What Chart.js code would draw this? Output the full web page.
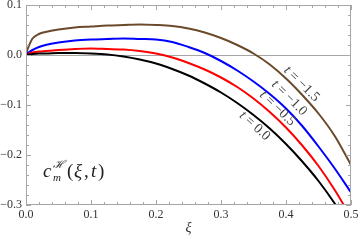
<!DOCTYPE html>
<html>
<head>
<meta charset="utf-8">
<script src="https://cdn.jsdelivr.net/npm/chart.js@4.4.0/dist/chart.umd.min.js"></script>
<style>
  html, body { margin: 0; padding: 0; background: #fff; }
</style>
</head>
<body>
<canvas id="chart" width="359" height="241"></canvas>
<script>
// xi sample points
const xi = [0, 0.002, 0.005, 0.01, 0.02, 0.03, 0.05, 0.075, 0.1, 0.125, 0.15, 0.175, 0.2,
    0.225, 0.25, 0.275, 0.3, 0.325, 0.35, 0.375, 0.4, 0.425, 0.45, 0.475, 0.5];

// c_m^H(xi, t) for each t
const cT15 = [0, 0.010, 0.020, 0.033, 0.042, 0.046, 0.051, 0.055, 0.057, 0.059, 0.060, 0.061, 0.060,
    0.058, 0.053, 0.045, 0.034, 0.020, 0.003, -0.019, -0.047, -0.080, -0.117, -0.162, -0.220];
const cT10 = [0, 0.003, 0.006, 0.010, 0.016, 0.020, 0.025, 0.029, 0.031, 0.032, 0.033, 0.032, 0.031,
    0.026, 0.016, 0.004, -0.012, -0.031, -0.053, -0.078, -0.107, -0.142, -0.183, -0.227, -0.275];
const cT05 = [0, 0.001, 0.003, 0.005, 0.007, 0.008, 0.010, 0.012, 0.013, 0.012, 0.011, 0.008, 0.003,
    -0.005, -0.016, -0.029, -0.045, -0.064, -0.087, -0.114, -0.145, -0.181, -0.222, -0.270, -0.325];
const cT00 = [0, 0.001, 0.001, 0.002, 0.003, 0.003, 0.004, 0.004, 0.003, 0.001, -0.003, -0.009, -0.017,
    -0.028, -0.041, -0.057, -0.075, -0.096, -0.120, -0.147, -0.178, -0.213, -0.252, -0.297, -0.348];

const tValues = ['−1.5', '−1.0', '−0.5', '0.0'];
const xTicks = [0, 0.1, 0.2, 0.3, 0.4, 0.5];
const yTicks = [-0.3, -0.2, -0.1, 0.0, 0.1];

const serif = 'Liberation Serif';
const fmt = v => (v < -1e-9 ? '−' : '') + Math.abs(v).toFixed(1);
const pts = arr => arr.map((v, i) => ({ x: xi[i], y: v }));

// where the t = ... labels sit, in data units, and their tilt
const labelSpots = [
    { x: 0.424, y: -0.058, rot: 45 },
    { x: 0.405, y: -0.086, rot: 45 },
    { x: 0.387, y: -0.107, rot: 44 },
    { x: 0.352, y: -0.142, rot: 42 }
];

function richText(ctx, parts, cx, cy) {
    let w = 0;
    parts.forEach(p => { ctx.font = p.font; w += ctx.measureText(p.text).width; });
    let x = cx - w / 2;
    parts.forEach(p => {
        ctx.font = p.font;
        ctx.fillText(p.text, x, cy);
        x += ctx.measureText(p.text).width;
    });
}

const framePlugin = {
    id: 'frame',
    beforeDatasetsDraw(chart) {
        const { ctx, chartArea: a, scales: { y } } = chart;
        ctx.save();
        ctx.strokeStyle = '#a6a6a6';
        ctx.lineWidth = 1;
        const y0 = Math.round(y.getPixelForValue(0)) + 0.5;
        ctx.beginPath();
        ctx.moveTo(a.left, y0);
        ctx.lineTo(a.right, y0);
        ctx.stroke();
        ctx.restore();
    },
    afterDatasetsDraw(chart) {
        const { ctx, chartArea: a, scales: { x, y } } = chart;
        ctx.save();
        ctx.strokeStyle = '#a6a6a6';
        ctx.lineWidth = 1;
        ctx.strokeRect(a.left + 0.5, a.top + 0.5, a.right - a.left - 1, a.bottom - a.top - 1);
        ctx.beginPath();
        for (let i = 0; i <= 25; i++) {
            const px = Math.round(x.getPixelForValue(i * 0.02)) + 0.5;
            const len = i % 5 === 0 ? 5 : 3;
            ctx.moveTo(px, a.bottom); ctx.lineTo(px, a.bottom - len);
            ctx.moveTo(px, a.top); ctx.lineTo(px, a.top + len);
        }
        for (let i = 0; i <= 20; i++) {
            const py = Math.round(y.getPixelForValue(-0.3 + i * 0.02)) + 0.5;
            const len = i % 5 === 0 ? 5 : 3;
            ctx.moveTo(a.left, py); ctx.lineTo(a.left + len, py);
            ctx.moveTo(a.right, py); ctx.lineTo(a.right - len, py);
        }
        ctx.stroke();

        // t = ... labels along the curves
        ctx.textAlign = 'left';
        ctx.fillStyle = '#444';
        ctx.textBaseline = 'middle';
        labelSpots.forEach((s, i) => {
            ctx.save();
            ctx.translate(x.getPixelForValue(s.x), y.getPixelForValue(s.y));
            ctx.rotate(s.rot * Math.PI / 180);
            richText(ctx, [
                { text: 't', font: `italic 14px "${serif}"` },
                { text: ' = ' + tValues[i], font: `14px "${serif}"` }
            ], 0, 0);
            ctx.restore();
        });

        // function name inside the plot
        ctx.fillStyle = '#222';
        ctx.textBaseline = 'alphabetic';
        const bx = x.getPixelForValue(0.026), by = y.getPixelForValue(-0.244);
        ctx.font = `italic 19px "${serif}"`;
        ctx.fillText('c', bx, by);
        ctx.font = `italic 11px "${serif}"`;
        ctx.fillText('ℋ', bx + 10, by - 9);
        ctx.fillText('m', bx + 10, by + 4);
        ctx.font = `19px "${serif}"`;
        ctx.fillText('(', bx + 24, by);
        ctx.font = `italic 19px "${serif}"`;
        ctx.fillText('ξ', bx + 31, by);
        ctx.font = `19px "${serif}"`;
        ctx.fillText(',', bx + 41, by);
        ctx.font = `italic 19px "${serif}"`;
        ctx.fillText('t', bx + 48, by);
        ctx.font = `19px "${serif}"`;
        ctx.fillText(')', bx + 55, by);
        ctx.restore();
    }
};

const lineSet = (data, color) => ({
    data: pts(data),
    borderColor: color,
    borderWidth: 2,
    pointRadius: 0,
    fill: false,
    cubicInterpolationMode: 'monotone'
});

const chart = new Chart(document.getElementById('chart').getContext('2d'), {
    type: 'line',
    data: {
        datasets: [
            lineSet(cT00, '#000000'),
            lineSet(cT05, '#ff0000'),
            lineSet(cT10, '#0000ff'),
            lineSet(cT15, '#6b4a2c')
        ]
    },
    options: {
        responsive: false,
        animation: false,
        devicePixelRatio: 1,
        layout: { padding: { top: 5, right: 8, left: 0, bottom: 0 } },
        plugins: { legend: { display: false }, tooltip: { enabled: false } },
        scales: {
            x: {
                type: 'linear',
                min: 0,
                max: 0.5,
                grid: { display: false, drawTicks: false },
                border: { display: false },
                afterBuildTicks: s => { s.ticks = xTicks.map(v => ({ value: v })); },
                ticks: {
                    padding: 3,
                    color: '#333',
                    maxRotation: 0,
                    autoSkip: false,
                    font: { family: serif, size: 12 },
                    callback: v => fmt(v)
                },
                title: {
                    display: true,
                    text: 'ξ',
                    color: '#333',
                    font: { family: serif, size: 14, style: 'italic' },
                    padding: { top: 0, bottom: 4 }
                },
                afterFit: s => { s.height = 36; s.paddingLeft = 0; s.paddingRight = 0; }
            },
            y: {
                type: 'linear',
                min: -0.3,
                max: 0.1,
                grid: { display: false, drawTicks: false },
                border: { display: false },
                afterBuildTicks: s => { s.ticks = yTicks.map(v => ({ value: v })); },
                ticks: {
                    padding: 4,
                    color: '#333',
                    autoSkip: false,
                    font: { family: serif, size: 12 },
                    callback: v => fmt(v)
                },
                afterFit: s => { s.width = 26; s.paddingTop = 0; s.paddingBottom = 0; }
            }
        }
    },
    plugins: [framePlugin]
});
</script>
</body>
</html>
